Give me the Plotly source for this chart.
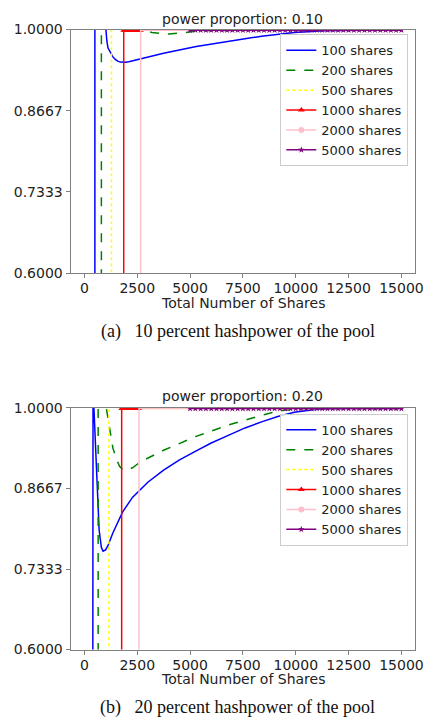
import plotly.graph_objects as go

W, H = 433, 727

# ---------------- data: power proportion 0.10 ----------------
a_blue_x = [496, 496, 600, 750, 900, 1007, 1060, 1114, 1230, 1346, 1460, 1578, 1700, 1810, 1950, 2100, 2645, 3745, 5290, 6835, 8383, 9930, 11320, 13000, 15000]
a_blue_y = [0.0, 1.0, 1.08, 1.09, 1.05, 1.0, 0.982, 0.970, 0.961, 0.955, 0.951, 0.948, 0.9465, 0.946, 0.9462, 0.947, 0.952, 0.961, 0.972, 0.981, 0.989, 0.995, 0.998, 0.999, 0.999]
a_green_x = [803, 803, 1200, 1800, 2400, 2750, 3200, 4000, 4800, 5400, 8000, 15000]
a_green_y = [0.0, 1.0, 1.04, 1.03, 1.01, 0.999, 0.995, 0.9925, 0.995, 0.998, 0.999, 0.999]
a_yellow_x = [1280, 1280, 1600, 2200, 3000, 15000]
a_yellow_y = [0.0, 1.0, 1.03, 1.01, 0.999, 0.999]
a_red_x = [1860, 1860, 1930, 2010, 2090, 2170, 2250, 2330, 2410, 2490, 2570, 2650]
a_red_y = [0.0, 0.999, 0.999, 0.999, 0.999, 0.999, 0.999, 0.999, 0.999, 0.999, 0.999, 0.999]
a_pink_x = [2660, 2660, 11000]
a_pink_y = [0.0, 0.999, 0.999]
a_purple_x = [5000, 5250, 5500, 5750, 6000, 6250, 6500, 6750, 7000, 7250, 7500, 7750, 8000, 8250,
              8500, 8750, 9000, 9250, 9500, 9750, 10000, 10250, 10500, 10750, 11000, 11250, 11500,
              11750, 12000, 12250, 12500, 12750, 13000, 13250, 13500, 13750, 14000, 14250, 14500,
              14750, 15000]
a_purple_y = [0.999] * len(a_purple_x)

# ---------------- data: power proportion 0.20 ----------------
b_blue_x = [385, 385, 410, 450, 510, 571, 696, 803, 882, 1000, 1114, 1345, 1810, 2273, 2585, 3000, 3745, 4500, 5290, 6000, 6835, 7600, 8383, 9150, 9930, 11000, 12000, 15000]
b_blue_y = [0.0, 1.0, 1.1, 1.0, 0.95, 0.906, 0.798, 0.769, 0.763, 0.765, 0.772, 0.793, 0.828, 0.852, 0.863, 0.877, 0.897, 0.914, 0.929, 0.942, 0.955, 0.967, 0.977, 0.986, 0.993, 0.998, 0.999, 0.999]
b_green_x = [650, 650, 800, 1035, 1192, 1346, 1499, 1656, 1810, 2000, 2273, 2660, 3745, 5290, 6835, 8383, 9300, 10500, 15000]
b_green_y = [0.0, 1.0, 1.05, 1.0, 0.961, 0.934, 0.917, 0.904, 0.898, 0.897, 0.901, 0.911, 0.930, 0.953, 0.972, 0.988, 0.996, 0.999, 0.999]
b_yellow_x = [1160, 1160, 1500, 2000, 2600, 15000]
b_yellow_y = [0.0, 1.0, 1.03, 1.005, 0.999, 0.999]
b_red_x = [1763, 1763, 1840, 1920, 2000, 2080, 2160, 2240, 2320, 2400, 2480, 2575]
b_red_y = [0.0, 0.999, 0.999, 0.999, 0.999, 0.999, 0.999, 0.999, 0.999, 0.999, 0.999, 0.999]
b_pink_x = [2585, 2585, 11000]
b_pink_y = [0.0, 0.999, 0.999]
b_purple_x = a_purple_x
b_purple_y = [0.999] * len(b_purple_x)

labels = ["100 shares", "200 shares", "500 shares", "1000 shares", "2000 shares", "5000 shares"]
colors = ["blue", "green", "yellow", "red", "pink", "purple"]
dashes = ["solid", "dash", "dot", "solid", "solid", "solid"]
symbols = [None, None, None, "triangle-up", "circle", "star"]

y_ticks = [0.6, 0.7333, 0.8667, 1.0]
y_tick_text = ["0.6000", "0.7333", "0.8667", "1.0000"]
x_ticks = [0, 2500, 5000, 7500, 10000, 12500, 15000]
x_tick_text = ["0", "2500", "5000", "7500", "10000", "12500", "15000"]

titles = ["power proportion: 0.10", "power proportion: 0.20"]
captions = ["(a)\u2002 10 percent hashpower of the pool", "(b)\u2002 20 percent hashpower of the pool"]
xlabel = "Total Number of Shares"

FONT = "DejaVu Sans"
FS = 14
fig = go.Figure()

panels = [
    ([a_blue_x, a_green_x, a_yellow_x, a_red_x, a_pink_x, a_purple_x],
     [a_blue_y, a_green_y, a_yellow_y, a_red_y, a_pink_y, a_purple_y]),
    ([b_blue_x, b_green_x, b_yellow_x, b_red_x, b_pink_x, b_purple_x],
     [b_blue_y, b_green_y, b_yellow_y, b_red_y, b_pink_y, b_purple_y]),
]

for p, (xs, ys) in enumerate(panels):
    xa = "x" if p == 0 else "x2"
    ya = "y" if p == 0 else "y2"
    leg = "legend" if p == 0 else "legend2"
    for i in range(6):
        sym = symbols[i]
        if i == 3:
            fig.add_trace(go.Scatter(x=xs[i], y=ys[i], xaxis=xa, yaxis=ya, mode="lines+markers",
                                     line=dict(color=colors[i], width=1.5, dash=dashes[i]),
                                     marker=dict(symbol=sym, size=6, color=colors[i]),
                                     name=labels[i], legend=leg, showlegend=True))
        elif i == 5:
            fig.add_trace(go.Scatter(x=xs[i], y=ys[i], xaxis=xa, yaxis=ya, mode="lines+markers",
                                     line=dict(color=colors[i], width=1.5),
                                     marker=dict(symbol=sym, size=5, color=colors[i]),
                                     name=labels[i], legend=leg, showlegend=True))
        elif i == 4:
            fig.add_trace(go.Scatter(x=xs[i], y=ys[i], xaxis=xa, yaxis=ya, mode="lines",
                                     line=dict(color=colors[i], width=1.5),
                                     name=labels[i], legend=leg, showlegend=False, legendgroup=f"pk{p}"))
            fig.add_trace(go.Scatter(x=[None], y=[None], xaxis=xa, yaxis=ya, mode="lines+markers",
                                     line=dict(color=colors[i], width=1.5),
                                     marker=dict(symbol=sym, size=6, color=colors[i]),
                                     name=labels[i], legend=leg, showlegend=True, legendgroup=f"pk{p}"))
        else:
            fig.add_trace(go.Scatter(x=xs[i], y=ys[i], xaxis=xa, yaxis=ya, mode="lines",
                                     line=dict(color=colors[i], width=1.5, dash=dashes[i]),
                                     name=labels[i], legend=leg, showlegend=True))

def px_x(v):
    return v / W

def px_y(v):
    return 1 - v / H

spine = "#808080"
axis_common = dict(showgrid=False, zeroline=False, showline=True, mirror=True,
                   linecolor=spine, linewidth=1.3, ticks="outside", ticklen=4,
                   tickcolor=spine, tickwidth=1, tickfont=dict(family=FONT, size=FS, color="#222"))

dom_x = [px_x(72), px_x(423)]
legend_common = dict(xanchor="right", yanchor="top",
                     bgcolor="rgba(255,255,255,0.85)", bordercolor="#cccccc", borderwidth=1,
                     font=dict(family=FONT, size=13, color="#222"), itemwidth=30, tracegroupgap=0)
fig.update_layout(
    width=W, height=H, margin=dict(l=0, r=0, t=0, b=0),
    paper_bgcolor="white", plot_bgcolor="white",
    xaxis=dict(domain=dom_x, range=[-650, 15650], tickvals=x_ticks, ticktext=x_tick_text, anchor="y",
               ticklabelstandoff=-2, **axis_common),
    yaxis=dict(domain=[px_y(271), px_y(22)], range=[0.6, 1.0], tickvals=y_ticks, ticktext=y_tick_text, anchor="x", **axis_common),
    xaxis2=dict(domain=dom_x, range=[-650, 15650], tickvals=x_ticks, ticktext=x_tick_text, anchor="y2",
                ticklabelstandoff=-2, **axis_common),
    yaxis2=dict(domain=[px_y(656), px_y(409)], range=[0.6, 1.0], tickvals=y_ticks, ticktext=y_tick_text, anchor="x2", **axis_common),
    legend=dict(x=px_x(416), y=px_y(27), **legend_common),
    legend2=dict(x=px_x(416), y=px_y(415), **legend_common),
    showlegend=True,
)

ann = []
for p in range(2):
    ty = [11, 397][p]
    xly = [302, 686][p]
    cy = [331, 715][p]
    ann.append(dict(text=titles[p], x=px_x(247.5), y=px_y(ty), xref="paper", yref="paper",
                    showarrow=False, xanchor="center", yanchor="middle",
                    font=dict(family=FONT, size=FS, color="#222")))
    ann.append(dict(text=xlabel, x=px_x(247.5), y=px_y(xly), xref="paper", yref="paper",
                    showarrow=False, xanchor="center", yanchor="middle",
                    font=dict(family=FONT, size=FS, color="#222")))
    ann.append(dict(text=captions[p], x=px_x(242), y=px_y(cy), xref="paper", yref="paper",
                    showarrow=False, xanchor="center", yanchor="middle",
                    font=dict(family="Liberation Serif", size=18, color="#111")))
fig.update_layout(annotations=ann)

fig.write_html("out.html")
